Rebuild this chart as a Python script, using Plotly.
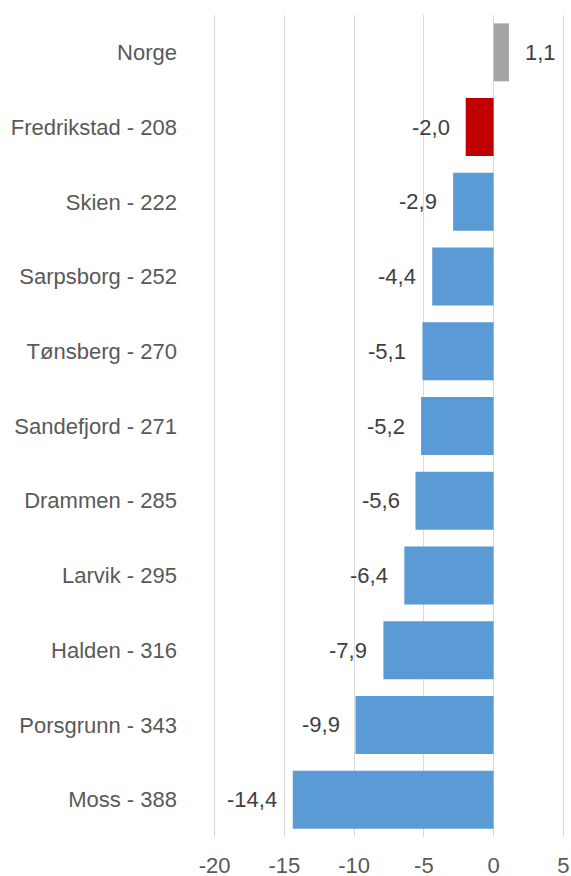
import plotly.graph_objects as go

categories = ["Norge", "Fredrikstad - 208", "Skien - 222", "Sarpsborg - 252", "Tønsberg - 270",
              "Sandefjord - 271", "Drammen - 285", "Larvik - 295", "Halden - 316",
              "Porsgrunn - 343", "Moss - 388"]
values = [1.1, -2.0, -2.9, -4.4, -5.1, -5.2, -5.6, -6.4, -7.9, -9.9, -14.4]
value_labels = ["1,1", "-2,0", "-2,9", "-4,4", "-5,1", "-5,2", "-5,6", "-6,4", "-7,9", "-9,9", "-14,4"]
bar_colors = ["#a5a5a5", "#c00000"] + ["#5b9bd5"] * 9
tick_vals = [-20, -15, -10, -5, 0, 5]
tick_text = ["-20", "-15", "-10", "-5", "0", "5"]

FONT = "Liberation Sans, Arial, sans-serif"
FS = 22
fig = go.Figure()
fig.add_trace(go.Bar(
    y=categories, x=values, orientation="h",
    marker=dict(color=bar_colors, line=dict(width=0)),
    hoverinfo="skip",
))

annotations = []
for cat, v, lab in zip(categories, values, value_labels):
    annotations.append(dict(
        x=v, y=cat, xref="x", yref="y", text=lab, showarrow=False,
        xanchor="left" if v >= 0 else "right",
        xshift=14 if v >= 0 else -14,
        font=dict(family=FONT, size=FS, color="#404040"),
    ))

fig.update_layout(
    width=571, height=876,
    margin=dict(l=213, r=6, t=15, b=39, autoexpand=False),
    plot_bgcolor="white", paper_bgcolor="white",
    bargap=0.224,
    showlegend=False,
    annotations=annotations,
    font=dict(family=FONT, size=FS, color="#595959"),
    xaxis=dict(
        range=[-20.12, 5.12], tickvals=tick_vals, ticktext=tick_text,
        showgrid=True, gridcolor="#d9d9d9", gridwidth=1.3,
        zeroline=True, zerolinecolor="#d9d9d9", zerolinewidth=1.3,
        showline=False, ticks="", ticklabelstandoff=13, automargin=False,
        tickfont=dict(family=FONT, size=FS, color="#595959"),
    ),
    yaxis=dict(
        autorange="reversed", showgrid=False, zeroline=False, showline=False,
        ticks="", ticklabelstandoff=35, automargin=False,
        tickfont=dict(family=FONT, size=FS, color="#595959"),
    ),
)
fig.write_html("out.html", config={"displayModeBar": False},
               post_script="document.body.style.margin='0';document.body.style.overflow='hidden';")
